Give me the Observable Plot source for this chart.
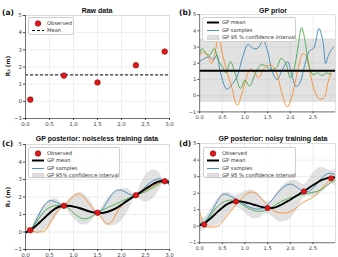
<!DOCTYPE html>
<html>
<head>
<meta charset="utf-8">
<script src="https://cdn.jsdelivr.net/npm/d3@7"></script>
<script src="https://cdn.jsdelivr.net/npm/@observablehq/plot@0.6"></script>
<style>
  body { margin: 0; background: #fff; }
  #fig { position: relative; width: 338px; height: 257px; overflow: hidden; background: #fff; font-family: "DejaVu Sans", sans-serif; }
  .panel { position: absolute; }
  .title { position: absolute; font: bold 7px "Liberation Sans", Arial, sans-serif; color: #111; white-space: nowrap; transform: translate(-50%, -50%); }
  .tag { position: absolute; font: bold 7.5px "DejaVu Sans", sans-serif; color: #111; transform: translateY(-50%); }
  .ylab { position: absolute; font: bold 5.8px "DejaVu Sans", sans-serif; color: #222; white-space: nowrap; transform: translate(-50%, -50%) rotate(-90deg); }
  .legend { position: absolute; background: rgba(255,255,255,0.85); border: 0.6px solid #cfcfcf; border-radius: 2px; box-sizing: border-box; }
  .row { position: absolute; left: 0; height: 7px; width: 100%; }
  .row svg { position: absolute; top: 0; }
  .row span { position: absolute; top: 0; font-size: 5.2px; line-height: 7px; color: #333; white-space: nowrap; }
</style>
</head>
<body>
<div id="fig"></div>
<script>
// ---- axes ----
const xTicks = [0, 0.5, 1, 1.5, 2, 2.5, 3];
const xTicksShown = [0, 0.5, 1, 1.5, 2, 2.5]; // right-hand panels run past the figure edge
const yTicks = [-1, 0, 1, 2, 3, 4, 5];

// ---- observations ----
const obsX = [0.1, 0.8, 1.5, 2.3, 2.9];
const obsY = [0.1, 1.5, 1.1, 2.1, 2.9];
const obsMean = d3.mean(obsY);

// ---- GP prior ----
const priorBandLow = -0.42;
const priorBandHigh = 3.5;
const priorBlue = [[0,2.1],[0.11,2.3],[0.22,2.4],[0.3,2.2],[0.38,2.5],[0.46,1.4],[0.6,0.4],[0.7,0.65],[0.83,1.2],[0.94,2.3],[1.07,3.15],[1.19,2.9],[1.29,2.95],[1.4,3.4],[1.5,2.75],[1.6,1.5],[1.71,1.0],[1.81,1.5],[1.94,2.1],[2.03,1.3],[2.13,0.55],[2.22,0.85],[2.31,1.8],[2.42,2.75],[2.52,2.95],[2.63,4.15],[2.72,3.35],[2.78,2.0],[2.85,2.55],[2.95,3.0]];
const priorOrange = [[0,2.5],[0.08,2.7],[0.17,2.5],[0.26,2.0],[0.32,2.4],[0.42,3.6],[0.5,2.6],[0.6,1.5],[0.7,0.6],[0.83,-0.6],[0.93,0.1],[1.02,1.0],[1.12,1.65],[1.22,1.4],[1.3,1.1],[1.4,1.6],[1.5,1.85],[1.6,1.85],[1.7,1.4],[1.8,0.3],[1.93,-0.7],[2.03,-0.1],[2.12,1.0],[2.2,2.0],[2.28,2.6],[2.36,2.4],[2.45,1.2],[2.55,0.2],[2.65,-0.2],[2.75,-0.1],[2.83,0.8],[2.9,1.5]];
const priorGreen = [[0,2.6],[0.05,2.9],[0.15,2.6],[0.22,2.5],[0.32,2.9],[0.42,2.1],[0.5,1.8],[0.58,1.4],[0.68,2.1],[0.78,1.4],[0.9,0.45],[1.0,0.95],[1.1,0.6],[1.22,1.3],[1.35,1.9],[1.45,1.85],[1.58,1.6],[1.7,1.75],[1.8,2.3],[1.9,2.0],[2.0,1.1],[2.08,1.6],[2.17,3.0],[2.25,4.2],[2.33,3.3],[2.4,2.0],[2.5,1.3],[2.6,1.4],[2.7,1.25],[2.8,1.4],[2.9,1.3]];

// ---- GP posterior, noiseless ----
const cX    = [0, 0.1, 0.2, 0.3, 0.45, 0.6, 0.7, 0.8, 0.9, 1.0, 1.15, 1.3, 1.4, 1.5, 1.6, 1.7, 1.9, 2.1, 2.2, 2.3, 2.4, 2.5, 2.6, 2.7, 2.8, 2.9, 3.0];
const cMean = [-0.02, 0.1, 0.32, 0.56, 0.95, 1.3, 1.44, 1.5, 1.5, 1.45, 1.34, 1.2, 1.13, 1.1, 1.09, 1.14, 1.38, 1.75, 1.93, 2.1, 2.28, 2.46, 2.64, 2.8, 2.9, 2.9, 2.82];
const cHigh = [0.23, 0.1, 0.7, 1.16, 1.7, 1.9, 1.79, 1.5, 1.85, 2.1, 2.26, 1.95, 1.58, 1.1, 1.49, 1.89, 2.35, 2.5, 2.33, 2.1, 2.73, 3.21, 3.49, 3.55, 3.35, 2.9, 3.02];
const cLow  = [-0.27, 0.1, -0.06, -0.04, 0.2, 0.7, 1.09, 1.5, 1.15, 0.8, 0.42, 0.45, 0.68, 1.1, 0.69, 0.39, 0.41, 1.0, 1.53, 2.1, 1.83, 1.71, 1.79, 2.05, 2.45, 2.9, 2.62];
const cBlue = [[0,-0.1],[0.1,0.1],[0.2,0.55],[0.3,1.1],[0.4,1.55],[0.5,1.78],[0.6,1.75],[0.7,1.62],[0.8,1.5],[0.9,1.47],[1.0,1.45],[1.15,1.38],[1.3,1.22],[1.4,1.12],[1.5,1.1],[1.6,1.3],[1.7,1.72],[1.8,2.15],[1.9,2.38],[2.0,2.38],[2.1,2.25],[2.2,2.12],[2.3,2.1],[2.4,2.3],[2.5,2.6],[2.6,2.82],[2.7,2.98],[2.8,3.05],[2.9,2.9],[3.0,2.7]];
const cOrange = [[0,0.3],[0.1,0.1],[0.2,0.0],[0.3,0.0],[0.4,0.05],[0.5,0.45],[0.6,0.95],[0.7,1.3],[0.8,1.5],[0.9,1.75],[1.0,2.05],[1.1,2.18],[1.2,2.05],[1.3,1.7],[1.4,1.35],[1.5,1.1],[1.6,0.75],[1.7,0.45],[1.8,0.6],[1.9,1.1],[2.0,1.5],[2.1,1.75],[2.2,1.95],[2.3,2.1],[2.4,2.25],[2.5,2.4],[2.6,2.55],[2.7,2.7],[2.8,2.85],[2.9,2.9],[3.0,2.85]];
const cGreen = [[0,0.0],[0.1,0.1],[0.2,0.45],[0.3,0.85],[0.4,1.2],[0.5,1.4],[0.6,1.5],[0.7,1.52],[0.8,1.5],[0.9,1.35],[1.0,1.1],[1.1,0.88],[1.2,0.76],[1.3,0.78],[1.4,0.92],[1.5,1.1],[1.6,1.25],[1.7,1.38],[1.8,1.5],[1.9,1.62],[2.0,1.75],[2.1,1.88],[2.2,2.0],[2.3,2.1],[2.4,2.2],[2.5,2.3],[2.6,2.45],[2.7,2.6],[2.8,2.78],[2.9,2.9],[3.0,2.95]];

// ---- GP posterior, noisy ----
const dX    = [0, 0.1, 0.2, 0.3, 0.4, 0.5, 0.6, 0.7, 0.8, 0.9, 1.0, 1.1, 1.2, 1.3, 1.4, 1.5, 1.6, 1.7, 1.8, 1.9, 2.0, 2.1, 2.2, 2.3, 2.4, 2.5, 2.6, 2.7, 2.8, 2.9, 3.0];
const dMean = [0.05, 0.17, 0.38, 0.62, 0.88, 1.12, 1.32, 1.45, 1.5, 1.5, 1.45, 1.38, 1.3, 1.22, 1.15, 1.1, 1.1, 1.17, 1.3, 1.45, 1.6, 1.78, 1.95, 2.12, 2.3, 2.48, 2.65, 2.8, 2.9, 2.95, 2.95];
const dHigh = [0.5, 0.52, 0.83, 1.27, 1.68, 1.97, 2.07, 1.95, 1.85, 1.95, 2.1, 2.2, 2.15, 1.97, 1.65, 1.45, 1.6, 1.97, 2.35, 2.6, 2.75, 2.78, 2.65, 2.52, 2.8, 3.2, 3.47, 3.55, 3.45, 3.35, 3.45];
const dLow  = [-0.4, -0.18, -0.07, -0.03, 0.08, 0.27, 0.57, 0.95, 1.15, 1.05, 0.8, 0.56, 0.45, 0.47, 0.65, 0.75, 0.6, 0.37, 0.25, 0.3, 0.45, 0.78, 1.25, 1.72, 1.8, 1.76, 1.83, 2.05, 2.35, 2.55, 2.45];
const dBlue = [[0,0.15],[0.1,0.25],[0.2,0.6],[0.3,1.05],[0.4,1.55],[0.5,1.9],[0.6,1.92],[0.7,1.78],[0.85,1.55],[1.0,1.3],[1.1,1.15],[1.2,1.07],[1.35,1.05],[1.5,1.3],[1.6,1.6],[1.7,1.95],[1.8,2.25],[1.9,2.45],[2.0,2.55],[2.1,2.45],[2.2,2.25],[2.3,2.08],[2.4,2.1],[2.5,2.3],[2.6,2.6],[2.7,2.95],[2.8,3.15],[2.9,3.2],[3.0,3.1]];
const dOrange = [[0,0.9],[0.05,0.4],[0.1,0.0],[0.2,-0.05],[0.3,-0.05],[0.4,0.0],[0.5,0.25],[0.6,0.6],[0.7,0.95],[0.8,1.3],[0.9,1.6],[1.0,1.88],[1.1,2.05],[1.2,2.05],[1.3,1.85],[1.4,1.55],[1.5,1.25],[1.6,1.0],[1.7,0.85],[1.8,0.8],[1.9,0.8],[2.0,0.88],[2.1,1.05],[2.2,1.28],[2.3,1.48],[2.4,1.6],[2.5,1.75],[2.6,2.0],[2.7,2.3],[2.8,2.6],[2.9,2.8],[3.0,2.9]];
const dGreen = [[0,0.2],[0.1,0.2],[0.2,0.5],[0.3,0.88],[0.4,1.2],[0.5,1.42],[0.6,1.55],[0.7,1.58],[0.8,1.5],[0.9,1.38],[1.0,1.2],[1.1,1.05],[1.2,0.95],[1.3,0.9],[1.4,0.92],[1.5,1.0],[1.6,1.15],[1.7,1.35],[1.8,1.5],[1.9,1.62],[2.0,1.72],[2.1,1.8],[2.2,1.88],[2.3,1.95],[2.4,2.0],[2.5,2.05],[2.6,2.12],[2.7,2.25],[2.8,2.45],[2.9,2.65],[3.0,2.8]];

// ---- styling ----
const BLUE = "#1f77b4", ORANGE = "#ff7f0e", GREEN = "#2ca02c";
const RED = "#e3161c", RED_EDGE = "#7a0a0a";
const BAND = "#b8b8b8";
const obs = obsX.map((x, i) => ({x, y: obsY[i]}));

const fig = document.getElementById("fig");

function makePanel({left, top, width, height, marginLeft, marginTop, marginBottom, labelTicks, marks}) {
  const svg = Plot.plot({
    width, height, marginLeft, marginRight: 3, marginTop, marginBottom,
    x: {domain: [0, 3]},
    y: {domain: [-1, 5]},
    style: {background: "transparent", fontFamily: "DejaVu Sans, sans-serif", fontSize: "5.5px", color: "#444", overflow: "visible"},
    marks: [
      Plot.gridX(xTicks, {stroke: "#e3e3e3", strokeOpacity: 1, strokeWidth: 0.6}),
      Plot.gridY(yTicks, {stroke: "#e3e3e3", strokeOpacity: 1, strokeWidth: 0.6}),
      ...marks,
      Plot.frame({stroke: "#cfcfcf", strokeWidth: 0.6}),
      Plot.ruleX([0], {stroke: "#444", strokeWidth: 0.7}),
      Plot.ruleY([-1], {stroke: "#444", strokeWidth: 0.7}),
      Plot.axisX(labelTicks, {tickFormat: d3.format(".1f"), tickSize: 2, tickPadding: 1.5, label: null, stroke: "#444", fill: "#444"}),
      Plot.axisY(yTicks, {tickSize: 2, tickPadding: 1.5, label: null, stroke: "#444", fill: "#444"})
    ]
  });
  const holder = document.createElement("div");
  holder.className = "panel";
  holder.style.left = left + "px";
  holder.style.top = top + "px";
  holder.appendChild(svg);
  fig.appendChild(holder);
}

function addText(cls, text, x, y) {
  const el = document.createElement("div");
  el.className = cls;
  el.textContent = text;
  el.style.left = x + "px";
  el.style.top = y + "px";
  fig.appendChild(el);
}

const swatch = {
  dot: `<circle cx="5" cy="3.5" r="2.8" fill="${RED}" stroke="${RED_EDGE}" stroke-width="0.6"/>`,
  dash: `<line x1="0" x2="12" y1="3.5" y2="3.5" stroke="#000" stroke-width="1" stroke-dasharray="3,2"/>`,
  thick: `<line x1="0" x2="12" y1="3.5" y2="3.5" stroke="#000" stroke-width="2"/>`,
  thin: `<line x1="0" x2="12" y1="3.5" y2="3.5" stroke="${BLUE}" stroke-width="0.8"/>`,
  patch: `<rect x="0" y="1.2" width="12" height="4.6" fill="${BAND}" fill-opacity="0.45" stroke="#c8c8c8" stroke-width="0.4"/>`
};

function addLegend({left, top, width, height, rows, swatchX, textX, rowY}) {
  const box = document.createElement("div");
  box.className = "legend";
  Object.assign(box.style, {left: left + "px", top: top + "px", width: width + "px", height: height + "px"});
  rows.forEach(([kind, label], i) => {
    const row = document.createElement("div");
    row.className = "row";
    row.style.top = (rowY[i] - 3.5) + "px";
    row.innerHTML = `<svg width="13" height="7" style="left:${kind === "dot" ? swatchX + 1 : swatchX}px">${swatch[kind]}</svg><span style="left:${textX}px">${label}</span>`;
    box.appendChild(row);
  });
  fig.appendChild(box);
}

const curve = "catmull-rom";
const sampleLines = (b, o, g) => [
  Plot.line(b, {stroke: BLUE, strokeWidth: 0.8, curve, clip: true}),
  Plot.line(o, {stroke: ORANGE, strokeWidth: 0.8, curve, clip: true}),
  Plot.line(g, {stroke: GREEN, strokeWidth: 0.8, curve, clip: true})
];
const obsDots = Plot.dot(obs, {x: "x", y: "y", r: 2.8, fill: RED, stroke: RED_EDGE, strokeWidth: 0.6});

// (a) raw data
makePanel({
  left: 0, top: 0, width: 172, height: 128, marginLeft: 25, marginTop: 15, marginBottom: 10, labelTicks: xTicks,
  marks: [
    Plot.ruleY([obsMean], {stroke: "#000", strokeWidth: 1, strokeDasharray: "3.2,1.8"}),
    obsDots
  ]
});

// (b) GP prior
makePanel({
  left: 168, top: 0, width: 180, height: 128, marginLeft: 33, marginTop: 15, marginBottom: 10, labelTicks: xTicksShown,
  marks: [
    Plot.areaY([0, 3], {x: d => d, y1: priorBandLow, y2: priorBandHigh, fill: BAND, fillOpacity: 0.42}),
    ...sampleLines(priorBlue, priorOrange, priorGreen),
    Plot.ruleY([obsMean], {stroke: "#000", strokeWidth: 2.2})
  ]
});

// (c) GP posterior, noiseless training data
makePanel({
  left: 0, top: 128, width: 172, height: 129, marginLeft: 25, marginTop: 16, marginBottom: 8, labelTicks: xTicks,
  marks: [
    Plot.areaY(cX, {x: d => d, y1: cLow, y2: cHigh, fill: BAND, fillOpacity: 0.42, curve, clip: true}),
    ...sampleLines(cBlue, cOrange, cGreen),
    Plot.line(cX, {x: d => d, y: cMean, stroke: "#000", strokeWidth: 2, curve, clip: true}),
    obsDots
  ]
});

// (d) GP posterior, noisy training data
makePanel({
  left: 168, top: 128, width: 180, height: 129, marginLeft: 33, marginTop: 16, marginBottom: 8, labelTicks: xTicksShown,
  marks: [
    Plot.areaY(dX, {x: d => d, y1: dLow, y2: dHigh, fill: BAND, fillOpacity: 0.42, curve, clip: true}),
    ...sampleLines(dBlue, dOrange, dGreen),
    Plot.line(dX, {x: d => d, y: dMean, stroke: "#000", strokeWidth: 2, curve, clip: true}),
    obsDots
  ]
});

// titles, panel tags and y labels
addText("title", "Raw data", 97, 9.5);
addText("title", "GP prior", 273, 9.5);
addText("title", "GP posterior: noiseless training data", 97, 138);
addText("title", "GP posterior: noisy training data", 273, 138);
addText("tag", "(a)", 2, 12);
addText("tag", "(b)", 179, 12);
addText("tag", "(c)", 2, 143);
addText("tag", "(d)", 179, 143);
addText("ylab", "R\u2082 (m)", 8, 66);
addText("ylab", "R\u2082 (m)", 8, 197);

// legends
addLegend({left: 28, top: 17, width: 46, height: 18, swatchX: 3, textX: 18,
  rowY: [5, 12], rows: [["dot", "Observed"], ["dash", "Mean"]]});
addLegend({left: 202, top: 17, width: 94, height: 25, swatchX: 4, textX: 19,
  rowY: [4.5, 12, 19.5], rows: [["thick", "GP mean"], ["thin", "GP samples"], ["patch", "GP 95 % confidence interval"]]});
addLegend({left: 28, top: 147, width: 92, height: 31, swatchX: 3, textX: 18,
  rowY: [5, 12.5, 20, 27], rows: [["dot", "Observed"], ["thick", "GP mean"], ["thin", "GP samples"], ["patch", "GP 95% confidence interval"]]});
addLegend({left: 203, top: 147, width: 93, height: 31, swatchX: 3, textX: 18,
  rowY: [5, 12.5, 20, 27], rows: [["dot", "Observed"], ["thick", "GP mean"], ["thin", "GP samples"], ["patch", "GP 95 % confidence interval"]]});
</script>
</body>
</html>
